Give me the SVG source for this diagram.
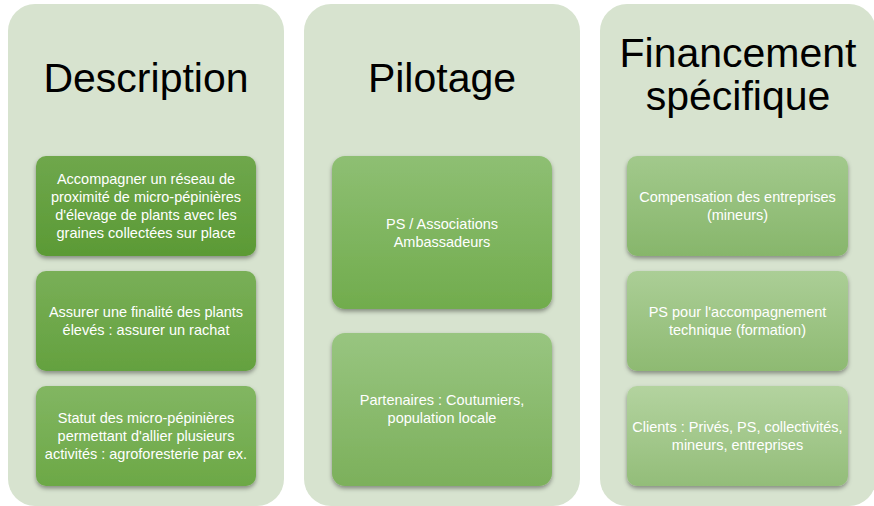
<svg xmlns="http://www.w3.org/2000/svg" width="874" height="506" viewBox="0 0 874 506">
<style>
.panel{fill:#D7E3CF}
.title{font-family:"Liberation Sans",Arial,sans-serif;font-size:41px;fill:#000;text-anchor:middle}
.t{font-family:"Liberation Sans",Arial,sans-serif;font-size:14.5px;fill:#FFFFFF;text-anchor:middle}
.box{filter:url(#sh)}
</style>
<defs>
<filter id="sh" x="-10%" y="-10%" width="120%" height="130%">
<feDropShadow dx="0" dy="2.5" stdDeviation="2" flood-color="#000" flood-opacity="0.38"/>
</filter>
<linearGradient id="g1" x1="0" y1="0" x2="0" y2="1"><stop offset="0" stop-color="#6FA74C"/><stop offset="1" stop-color="#5B9A35"/></linearGradient>
<linearGradient id="g2" x1="0" y1="0" x2="0" y2="1"><stop offset="0" stop-color="#79AF57"/><stop offset="1" stop-color="#64A13F"/></linearGradient>
<linearGradient id="g3" x1="0" y1="0" x2="0" y2="1"><stop offset="0" stop-color="#82B662"/><stop offset="1" stop-color="#6CA846"/></linearGradient>
<linearGradient id="g4" x1="0" y1="0" x2="0" y2="1"><stop offset="0" stop-color="#8EBF73"/><stop offset="1" stop-color="#71AC4D"/></linearGradient>
<linearGradient id="g5" x1="0" y1="0" x2="0" y2="1"><stop offset="0" stop-color="#98C580"/><stop offset="1" stop-color="#7CB05B"/></linearGradient>
<linearGradient id="g6" x1="0" y1="0" x2="0" y2="1"><stop offset="0" stop-color="#A2C98C"/><stop offset="1" stop-color="#87B66B"/></linearGradient>
<linearGradient id="g7" x1="0" y1="0" x2="0" y2="1"><stop offset="0" stop-color="#ABCE96"/><stop offset="1" stop-color="#8EBA72"/></linearGradient>
<linearGradient id="g8" x1="0" y1="0" x2="0" y2="1"><stop offset="0" stop-color="#B3D39F"/><stop offset="1" stop-color="#93BD79"/></linearGradient>
</defs>

<g id="col-description">
<rect class="panel" x="8" y="4" width="276" height="502" rx="27"/>
<text class="title" x="146" y="92">Description</text>
</g>
<g id="col-pilotage">
<rect class="panel" x="304" y="4" width="276" height="502" rx="27"/>
<text class="title" x="442" y="92">Pilotage</text>
</g>
<g id="col-financement">
<rect class="panel" x="600" y="4" width="276" height="502" rx="27"/>
<text class="title" x="738" y="67">Financement</text>
<text class="title" x="738" y="110">spécifique</text>
</g>

<g id="d1">
<rect class="box" x="36" y="156" width="220" height="100" rx="10" fill="url(#g1)"/>
<text class="t" x="146" y="184">Accompagner un réseau de</text>
<text class="t" x="146" y="202">proximité de micro-pépinières</text>
<text class="t" x="146" y="220">d'élevage de plants avec les</text>
<text class="t" x="146" y="238">graines collectées sur place</text>
</g>
<g id="d2">
<rect class="box" x="36" y="271" width="220" height="100" rx="10" fill="url(#g2)"/>
<text class="t" x="146" y="317">Assurer une finalité des plants</text>
<text class="t" x="146" y="335">élevés : assurer un rachat</text>
</g>
<g id="d3">
<rect class="box" x="36" y="386" width="220" height="100" rx="10" fill="url(#g3)"/>
<text class="t" x="146" y="423">Statut des micro-pépinières</text>
<text class="t" x="146" y="441">permettant d'allier plusieurs</text>
<text class="t" x="146" y="459">activités : agroforesterie par ex.</text>
</g>

<g id="p1">
<rect class="box" x="332" y="156" width="220" height="153" rx="13" fill="url(#g4)"/>
<text class="t" x="442" y="229">PS / Associations</text>
<text class="t" x="442" y="247">Ambassadeurs</text>
</g>
<g id="p2">
<rect class="box" x="332" y="333" width="220" height="153" rx="13" fill="url(#g5)"/>
<text class="t" x="442" y="405">Partenaires : Coutumiers,</text>
<text class="t" x="442" y="423">population locale</text>
</g>

<g id="f1">
<rect class="box" x="627" y="156" width="221" height="100" rx="10" fill="url(#g6)"/>
<text class="t" x="737.5" y="202">Compensation des entreprises</text>
<text class="t" x="737.5" y="220">(mineurs)</text>
</g>
<g id="f2">
<rect class="box" x="627" y="271" width="221" height="100" rx="10" fill="url(#g7)"/>
<text class="t" x="737.5" y="317">PS pour l'accompagnement</text>
<text class="t" x="737.5" y="335">technique (formation)</text>
</g>
<g id="f3">
<rect class="box" x="627" y="386" width="221" height="100" rx="10" fill="url(#g8)"/>
<text class="t" x="737.5" y="432">Clients : Privés, PS, collectivités,</text>
<text class="t" x="737.5" y="450">mineurs, entreprises</text>
</g>

<g id="connectors"></g>
</svg>
